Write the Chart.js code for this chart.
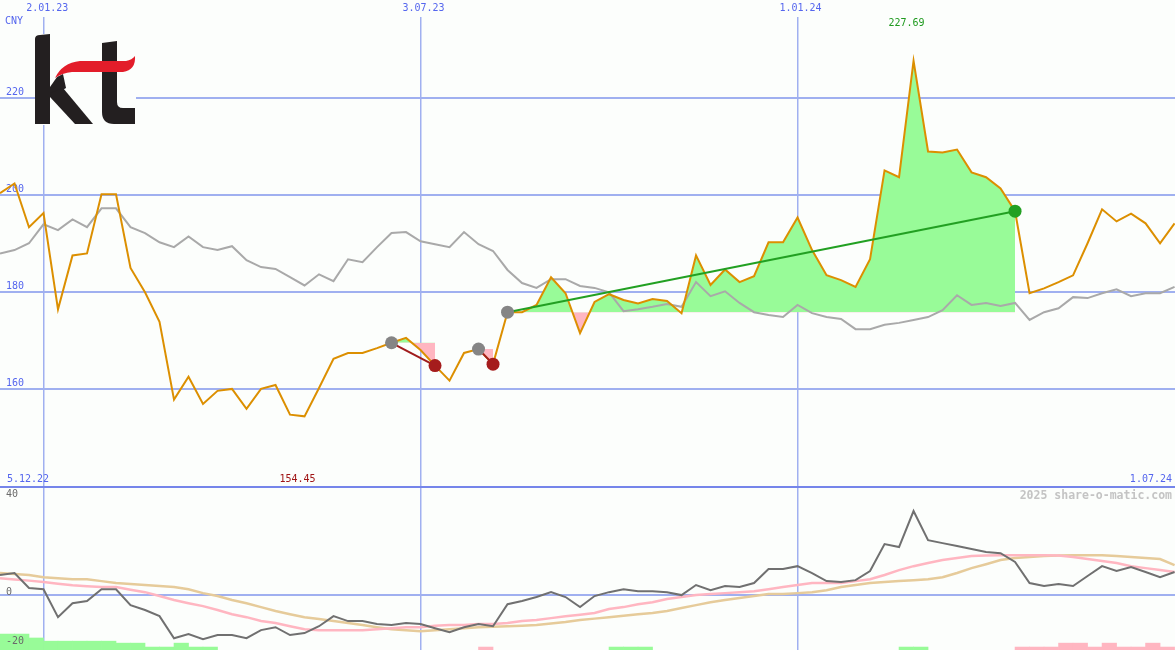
<!DOCTYPE html>
<html>
<head>
<meta charset="utf-8">
<script src="https://cdn.jsdelivr.net/npm/chart.js@4.4.1/dist/chart.umd.min.js"></script>
<style>
  html, body { margin: 0; padding: 0; background: #fcfefc; }
  #wrap { position: relative; width: 1175px; height: 650px; overflow: hidden; }
  canvas { position: absolute; left: 0; }
  #top { top: 0; }
  #bottom { top: 486px; }
</style>
</head>
<body>
<div id="wrap">
  <canvas id="top" width="1175" height="486"></canvas>
  <canvas id="bottom" width="1175" height="164"></canvas>
</div>
<script>
// weekly closes, CNY
const price = [
  200.4, 202.4, 193.4, 196.3, 176.5, 187.6, 188.0, 200.2, 200.2, 185.0,
  180.0, 173.9, 157.9, 162.6, 157.0, 159.7, 160.1, 156.0, 160.1, 160.9,
  154.8, 154.45, 160.3, 166.3, 167.5, 167.5, 168.5, 169.6, 170.6, 168.1,
  164.9, 161.8, 167.5, 168.3, 165.2, 175.9, 175.9, 177.4, 183.1, 179.8,
  171.6, 178.0, 179.6, 178.4, 177.7, 178.6, 178.2, 175.7, 187.6, 181.5,
  184.7, 182.1, 183.3, 190.3, 190.3, 195.4, 188.7, 183.5, 182.5, 181.1,
  186.8, 205.1, 203.7, 227.69, 209.0, 208.8, 209.4, 204.7, 203.7, 201.4,
  196.7, 179.8, 180.8, 182.1, 183.5, 190.1, 197.1, 194.6, 196.2, 194.2,
  190.1, 194.2
];
// comparison line (grey)
const benchmark = [
  188.0, 188.7, 190.1, 194.0, 192.8, 195.0, 193.4, 197.3, 197.3, 193.4,
  192.2, 190.3, 189.3, 191.5, 189.3, 188.7, 189.5, 186.6, 185.2, 184.8,
  183.1, 181.4, 183.7, 182.3, 186.8, 186.2, 189.3, 192.2, 192.4, 190.5,
  189.9, 189.3, 192.4, 189.9, 188.5, 184.6, 181.9, 180.9, 182.7, 182.7,
  181.3, 180.9, 180.0, 176.1, 176.5, 177.0, 177.6, 177.0, 182.1, 179.2,
  180.2, 177.8, 175.9, 175.3, 174.9, 177.4, 175.7, 174.9, 174.5, 172.4,
  172.4, 173.3, 173.7, 174.3, 174.9, 176.3, 179.4, 177.4, 177.8, 177.2,
  177.8, 174.3, 175.9, 176.7, 179.0, 178.8, 179.8, 180.6, 179.2, 179.8,
  179.8, 181.1
];
// lower panel
const momentum = [
  8.2, 9.0, 2.9, 2.4, -9.0, -3.3, -2.4, 2.4, 2.4, -4.1,
  -6.1, -8.6, -17.6, -15.9, -18.0, -16.3, -16.3, -17.6, -14.3, -13.1,
  -16.3, -15.5, -12.7, -8.6, -10.6, -10.6, -11.8, -12.2, -11.4, -11.8,
  -13.5, -15.1, -13.1, -11.8, -12.7, -3.7, -2.4, -0.8, 1.2, -0.8,
  -4.9, -0.4, 1.2, 2.4, 1.6, 1.6, 1.2, 0, 4.1, 2.0,
  3.7, 3.3, 4.9, 10.6, 10.6, 11.8, 9.0, 5.7, 5.3, 6.1,
  9.8, 20.8, 19.6, 34.3, 22.4, 21.2, 20.0, 18.8, 17.6, 17.1,
  13.5, 4.9, 3.7, 4.5, 3.7, 7.8, 11.8, 9.8, 11.4, 9.4,
  7.3, 9.4
];
const avgFast = [
  6.9, 6.4, 5.9, 5.3, 4.6, 4.0, 3.6, 3.3, 3.3, 2.2,
  1.2, -0.4, -2.0, -3.3, -4.5, -6.1, -7.8, -9.0, -10.6, -11.4,
  -12.7, -13.9, -14.3, -14.3, -14.3, -14.3, -13.9, -13.5, -13.1, -13.1,
  -12.5, -12.2, -12.2, -11.8, -11.8, -11.4, -10.6, -10.2, -9.4, -8.6,
  -8.0, -7.3, -5.7, -4.9, -3.7, -2.9, -1.6, -0.8, 0, 0.4,
  0.8, 1.2, 1.6, 2.4, 3.3, 4.1, 4.9, 4.9, 4.9, 5.7,
  6.5, 8.2, 10.2, 11.8, 13.1, 14.3, 15.1, 15.9, 16.1, 16.3,
  16.3, 16.3, 16.3, 16.1, 15.5, 14.7, 13.9, 13.1, 11.8, 11.0,
  10.2, 9.4
];
const avgSlow = [
  9.0, 8.6, 8.2, 7.3, 6.9, 6.5, 6.5, 5.7, 4.9, 4.5,
  4.1, 3.7, 3.3, 2.4, 0.8, -0.4, -2.0, -3.3, -4.9, -6.5,
  -7.8, -9.0, -9.8, -10.6, -11.4, -12.2, -13.1, -13.9, -14.3, -14.7,
  -14.3, -13.9, -13.5, -13.1, -12.9, -12.7, -12.5, -12.2, -11.6, -11.0,
  -10.2, -9.6, -9.0, -8.4, -7.8, -7.3, -6.5, -5.3, -4.1, -2.9,
  -2.0, -1.2, -0.4, 0.4, 0.4, 0.8, 1.2, 2.0, 3.3, 4.1,
  4.9, 5.3, 5.7, 6.1, 6.5, 7.3, 9.0, 11.0, 12.6, 14.3,
  15.1, 15.5, 15.9, 16.1, 16.3, 16.3, 16.3, 15.9, 15.5, 15.1,
  14.7, 12.2
];
const greenBars = [
  -15.9, -15.9, -17.5, -18.8, -18.8, -18.8, -18.8, -18.8, -19.6, -19.6,
  -21.2, -21.2, -19.6, -21.2, -21.2, null, null, null, null, null,
  null, null, null, null, null, null, null, null, null, null,
  null, null, null, null, null, null, null, null, null, null,
  null, null, -21.2, -21.2, -21.2, null, null, null, null, null,
  null, null, null, null, null, null, null, null, null, null,
  null, null, -21.2, -21.2, null, null, null, null, null, null,
  null, null, null, null, null, null, null, null, null, null,
  null, null
];
const pinkBars = [
  null, null, null, null, null, null, null, null, null, null,
  null, null, null, null, null, null, null, null, null, null,
  null, null, null, null, null, null, null, null, null, null,
  null, null, null, -21.2, null, null, null, null, null, null,
  null, null, null, null, null, null, null, null, null, null,
  null, null, null, null, null, null, null, null, null, null,
  null, null, null, null, null, null, null, null, null, null,
  -21.2, -21.2, -21.2, -19.6, -19.6, -21.2, -19.6, -21.2, -21.2, -19.6,
  -21.2, null
];
const buyWeeks = [27, 33, 35];
const sellWeeks = [30, 34, 70];
const dateTickPos = [3.05, 29, 55];
const dateTickLabels = ["2.01.23", "3.07.23", "1.01.24"];
const priceTicks = [160, 180, 200, 220];
const lowerTicks = [-20, 0, 40];
const firstDate = "5.12.22";
const lastDate = "1.07.24";
const currency = "CNY";

const MONO = "'DejaVu Sans Mono', monospace";
const BLUE = "#5566ee";
const GRID = "#a0b0f0";
const X_MIN = 0, X_MAX = 81.03;
const LOW_MIN = -22.4, LOW_MAX = 44.5;

const pts = arr => arr.map((v, i) => ({ x: i, y: v }));
const noPad = axis => {
  axis.paddingTop = 0; axis.paddingBottom = 0;
  axis.paddingLeft = 0; axis.paddingRight = 0;
};

function drawLogo(ctx) {
  ctx.save();
  ctx.fillStyle = "#fcfefc";
  ctx.fillRect(35, 34, 101, 91);
  ctx.fillStyle = "#231f20";
  // k stem
  ctx.beginPath();
  ctx.moveTo(35, 39); ctx.quadraticCurveTo(35, 35, 40, 35);
  ctx.lineTo(50, 34); ctx.lineTo(50, 124); ctx.lineTo(35, 124);
  ctx.closePath(); ctx.fill();
  // k arm
  ctx.beginPath();
  ctx.moveTo(50, 87); ctx.lineTo(57, 77); ctx.lineTo(63, 74);
  ctx.lineTo(66, 88); ctx.lineTo(50, 97);
  ctx.closePath(); ctx.fill();
  // k leg
  ctx.beginPath();
  ctx.moveTo(50, 93); ctx.lineTo(63, 88); ctx.lineTo(93, 124);
  ctx.lineTo(75, 124); ctx.lineTo(50, 97);
  ctx.closePath(); ctx.fill();
  // t
  ctx.beginPath();
  ctx.moveTo(102, 43); ctx.lineTo(117, 41); ctx.lineTo(117, 102);
  ctx.quadraticCurveTo(117, 108, 123, 108); ctx.lineTo(135, 108);
  ctx.lineTo(135, 124); ctx.lineTo(114, 124);
  ctx.quadraticCurveTo(102, 124, 102, 112);
  ctx.closePath(); ctx.fill();
  // red swoosh
  ctx.fillStyle = "#e31d2a";
  ctx.beginPath();
  ctx.moveTo(55, 78);
  ctx.quadraticCurveTo(62, 63, 80, 61);
  ctx.lineTo(126, 61);
  ctx.quadraticCurveTo(132, 60, 135, 56);
  ctx.quadraticCurveTo(136, 70, 123, 72);
  ctx.lineTo(72, 72);
  ctx.quadraticCurveTo(62, 73, 55, 78);
  ctx.closePath(); ctx.fill();
  ctx.restore();
}

const upperDecor = {
  id: "upperDecor",
  beforeDatasetsDraw(chart) {
    drawLogo(chart.ctx);
  },
  afterDraw(chart) {
    const ctx = chart.ctx;
    const xs = chart.scales.x;
    const area = chart.chartArea;
    const hi = Math.max(...price), lo = Math.min(...price);
    ctx.save();
    ctx.font = "10px " + MONO;
    ctx.textBaseline = "middle";
    ctx.fillStyle = BLUE;
    ctx.textAlign = "left";
    ctx.fillText(currency, 5, 21);
    ctx.fillText(firstDate, 7, 479);
    ctx.textAlign = "right";
    ctx.fillText(lastDate, 1172, 479);
    ctx.textAlign = "center";
    ctx.fillStyle = "#1f9a1f";
    ctx.fillText(hi.toFixed(2), xs.getPixelForValue(price.indexOf(hi)) - 7, area.top + 6);
    ctx.fillStyle = "#a01414";
    ctx.fillText(lo.toFixed(2), xs.getPixelForValue(price.indexOf(lo)) - 7, 479);
    ctx.restore();
  }
};

const lowerDecor = {
  id: "lowerDecor",
  afterDraw(chart) {
    const ctx = chart.ctx;
    const ys = chart.scales.y;
    ctx.save();
    ctx.fillStyle = "#7585ea";
    ctx.fillRect(0, 0, 1175, 2);
    ctx.textBaseline = "middle";
    ctx.font = "10px " + MONO;
    ctx.fillStyle = "#6a6a6a";
    ctx.textAlign = "left";
    lowerTicks.forEach(v => ctx.fillText(String(v), 6, ys.getPixelForValue(v) - 3));
    ctx.font = "bold 11.5px " + MONO;
    ctx.fillStyle = "#c4c4c4";
    ctx.textAlign = "right";
    ctx.fillText("2025 share-o-matic.com", 1172, 10);
    ctx.restore();
  }
};

const tradeSets = buyWeeks.map((b, n) => {
  const s = sellWeeks[n];
  const win = price[s] > price[b];
  return {
    data: [{ x: b, y: price[b] }, { x: s, y: price[s] }],
    borderColor: win ? "#22a022" : "#a01c1c",
    borderWidth: 2,
    pointRadius: 6.5,
    pointBorderWidth: 0,
    pointBackgroundColor: ["#858585", win ? "#22a022" : "#a51c1c"]
  };
});

const fillSets = buyWeeks.map((b, n) => {
  const s = sellWeeks[n];
  return {
    data: price.map((v, i) => ({ x: i, y: i >= b && i <= s ? v : null })),
    borderWidth: 0,
    pointRadius: 0,
    fill: { target: { value: price[b] }, above: "#98fb98", below: "#ffb6c1" }
  };
});

new Chart(document.getElementById("top"), {
  type: "line",
  data: {
    datasets: [
      ...tradeSets,
      { data: pts(price), borderColor: "#dc8f00", borderWidth: 2, pointRadius: 0 },
      { data: pts(benchmark), borderColor: "#a9a9a9", borderWidth: 2, pointRadius: 0 },
      ...fillSets
    ]
  },
  options: {
    responsive: false,
    animation: false,
    events: [],
    layout: { padding: 0, autoPadding: false },
    plugins: { legend: { display: false }, tooltip: { enabled: false } },
    scales: {
      x: {
        type: "linear",
        position: "top",
        min: X_MIN,
        max: X_MAX,
        afterBuildTicks: axis => { axis.ticks = dateTickPos.map(v => ({ value: v })); },
        afterFit: noPad,
        ticks: {
          callback: v => dateTickLabels[dateTickPos.indexOf(v)],
          font: { family: MONO, size: 10, lineHeight: 1.5 },
          color: BLUE,
          padding: 1,
          labelOffset: 3,
          maxRotation: 0,
          autoSkip: false
        },
        grid: { color: GRID, lineWidth: 1.5, drawTicks: false },
        border: { display: false }
      },
      y: {
        min: 140.1,
        max: 236.7,
        afterBuildTicks: axis => { axis.ticks = priceTicks.map(v => ({ value: v })); },
        afterFit: axis => { axis.width = 0; noPad(axis); },
        ticks: {
          mirror: true,
          padding: 6,
          labelOffset: -5.5,
          autoSkip: false,
          font: { family: MONO, size: 10 },
          color: BLUE
        },
        grid: { color: GRID, lineWidth: 2, drawTicks: false },
        border: { display: false }
      }
    }
  },
  plugins: [upperDecor]
});

const barPoints = arr => arr
  .map((v, i) => (v === null ? null : { x: i + 0.5, y: [LOW_MIN - 1, v] }))
  .filter(p => p !== null);

new Chart(document.getElementById("bottom"), {
  type: "line",
  data: {
    datasets: [
      { data: pts(momentum), borderColor: "#707070", borderWidth: 2, pointRadius: 0 },
      { data: pts(avgFast), borderColor: "#ffb6c1", borderWidth: 2.5, pointRadius: 0 },
      { data: pts(avgSlow), borderColor: "#e6cb9a", borderWidth: 2.5, pointRadius: 0 },
      { type: "bar", data: barPoints(greenBars), backgroundColor: "#98fb98", borderWidth: 0,
        barPercentage: 1, categoryPercentage: 1, grouped: false },
      { type: "bar", data: barPoints(pinkBars), backgroundColor: "#ffb6c1", borderWidth: 0,
        barPercentage: 1, categoryPercentage: 1, grouped: false }
    ]
  },
  options: {
    responsive: false,
    animation: false,
    events: [],
    layout: { padding: 0, autoPadding: false },
    plugins: { legend: { display: false }, tooltip: { enabled: false } },
    scales: {
      x: {
        type: "linear",
        min: X_MIN,
        max: X_MAX,
        offset: false,
        afterBuildTicks: axis => { axis.ticks = dateTickPos.map(v => ({ value: v })); },
        afterFit: axis => { axis.height = 0; noPad(axis); },
        ticks: { display: false },
        grid: { color: GRID, lineWidth: 1.5, drawTicks: false, offset: false },
        border: { display: false }
      },
      y: {
        min: LOW_MIN,
        max: LOW_MAX,
        afterBuildTicks: axis => { axis.ticks = [{ value: 0 }]; },
        afterFit: axis => { axis.width = 0; noPad(axis); },
        ticks: { display: false },
        grid: { color: GRID, lineWidth: 2, drawTicks: false },
        border: { display: false }
      }
    }
  },
  plugins: [lowerDecor]
});
</script>
</body>
</html>
